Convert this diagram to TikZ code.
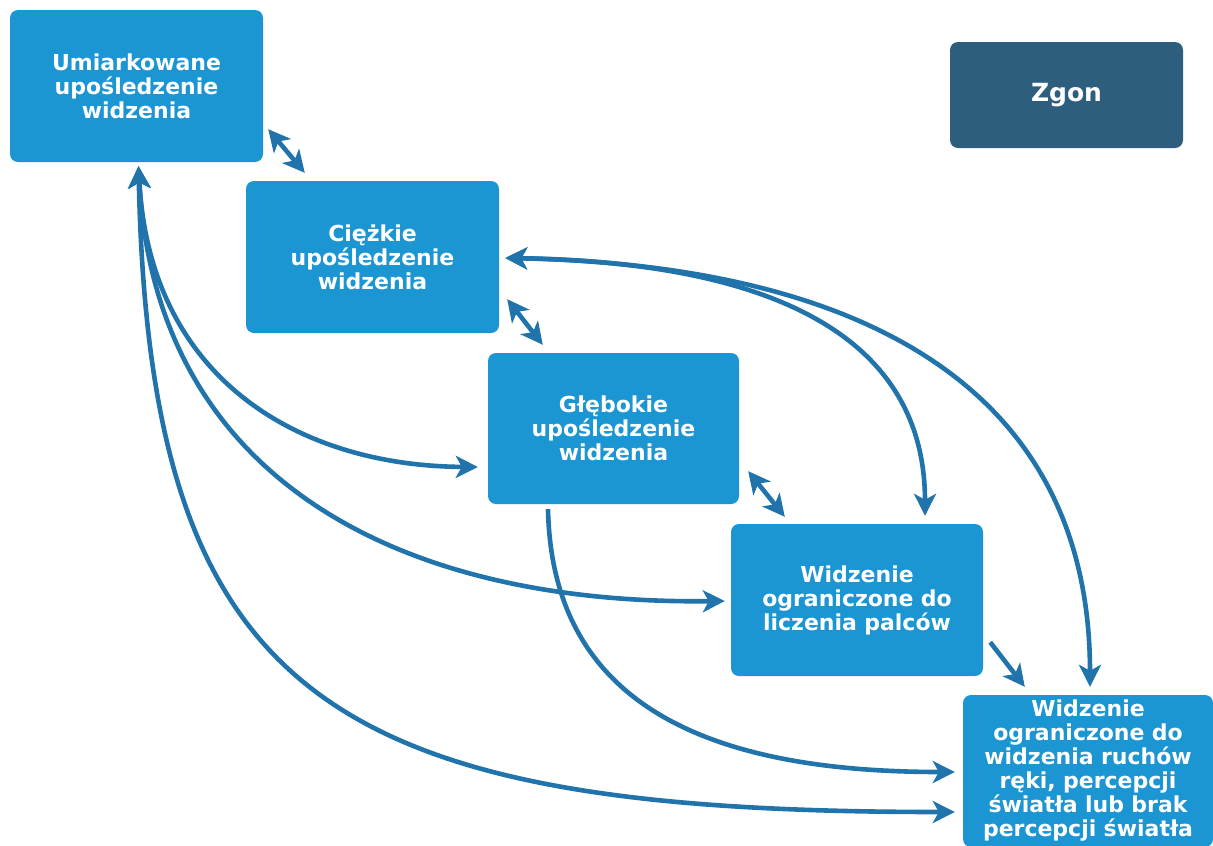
\documentclass[tikz,border=0pt]{standalone}
\usepackage{fontspec}
\setmainfont{DejaVu Sans}
\usetikzlibrary{arrows.meta,calc}
\definecolor{boxblue}{RGB}{27,150,210}
\definecolor{darkbox}{RGB}{46,94,126}
\definecolor{arrblue}{RGB}{33,115,172}
\begin{document}
\begin{tikzpicture}[x=1pt,y=-1pt,
  box/.style={rectangle,rounded corners=8pt,fill=boxblue,text=white,
    font=\fontsize{22}{24}\selectfont\bfseries,align=center,inner sep=0pt,
    minimum width=252pt,minimum height=152pt,text width=250pt},
  arr/.style={draw=arrblue,line width=4.6pt,-{Stealth[length=22pt,width=22pt,inset=6pt]}},
  darr/.style={arr,{Stealth[length=22pt,width=22pt,inset=6pt]}-{Stealth[length=22pt,width=22pt,inset=6pt]}}]
\useasboundingbox (0,0) rectangle (1213,846);
\fill[white] (0,0) rectangle (1213,846);
\begin{scope}
\clip (0,0) rectangle (1213,846);
\node[box,minimum width=253pt] (b1) at (136.5,86) {Umiarkowane\\upośledzenie\\widzenia};
\node[box,minimum width=253pt] (b3) at (372.5,257) {Ciężkie\\upośledzenie\\widzenia};
\node[box,minimum width=251pt,minimum height=151pt] (b4) at (613.5,428.5) {Głębokie\\upośledzenie\\widzenia};
\node[box] (b5) at (857,600) {Widzenie\\ograniczone do\\liczenia palców};
\node[box,minimum width=250pt] (b6) at (1088,771) {Widzenie\\ograniczone do\\widzenia ruchów\\ręki, percepcji\\światła lub brak\\percepcji światła};
\node[box,fill=darkbox,minimum width=233pt,minimum height=106pt,text width=220pt,font=\fontsize{25}{28}\selectfont\bfseries] (zg) at (1066.5,95) {Zgon};

% short double arrows between neighbours
\draw[darr] ($(b1.south east)+(5,-33)$) -- ($(b3.north west)+(59,-8)$);
\draw[darr] ($(b3.south east)+(8,-34)$) -- ($(b4.north west)+(55,-8)$);
\draw[darr] ($(b4.south east)+(9,-33)$) -- ($(b5.north west)+(54,-7)$);
\draw[arr] ($(b5.south east)+(7,-34)$) -- ($(b6.north west)+(62,-8)$);

% curves from Umiarkowane
\draw[darr] ($(b1.south)+(2,4)$) .. controls (150,380) and (300,466) .. ($(b4.west)+(-10,38.5)$);
\draw[darr] ($(b1.south)+(2,4)$) .. controls (155,480) and (400,605) .. ($(b5.west)+(-6,1)$);
\draw[darr] ($(b1.south)+(2,4)$) .. controls (150,700) and (330,812) .. ($(b6.west)+(-8,41)$);

% from Głębokie
\draw[arr] ($(b4.south)+(-65.5,5)$) .. controls (552,700) and (700,772) .. ($(b6.west)+(-8,1)$);

% curves from Ciężkie
\draw[darr] ($(b3.east)+(6,1)$) .. controls (760,262) and (925,330) .. ($(b5.north)+(68,-8)$);
\draw[darr] ($(b3.east)+(6,1)$) .. controls (850,265) and (1090,380) .. ($(b6.north)+(2,-8)$);
\end{scope}
\end{tikzpicture}
\end{document}
